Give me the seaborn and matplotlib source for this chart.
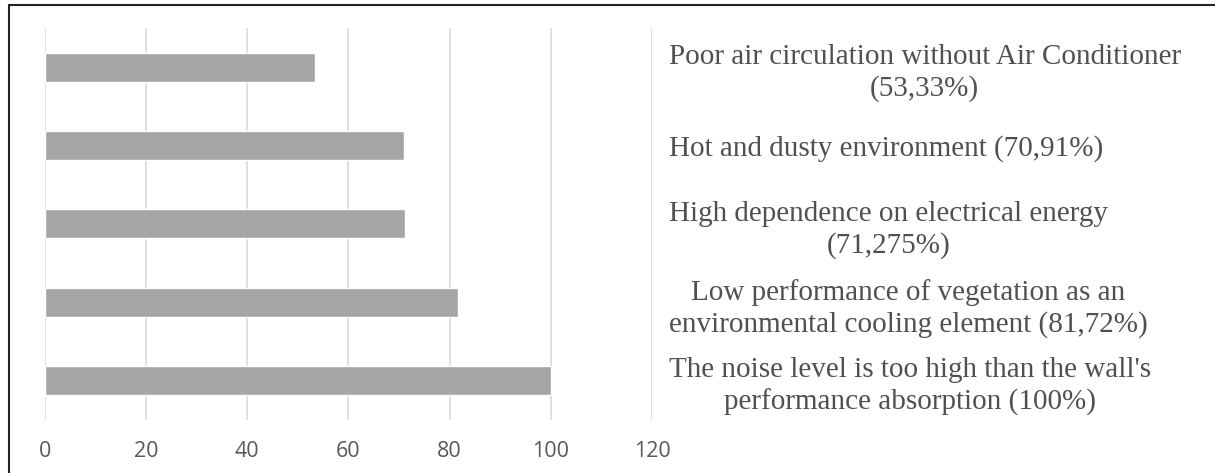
import pandas as pd
import matplotlib.pyplot as plt
import seaborn as sns
from matplotlib.patches import Rectangle

# Data (top to bottom)
labels = [
    "Poor air circulation without Air Conditioner\n(53,33%)",
    "Hot and dusty environment (70,91%)",
    "High dependence on electrical energy\n(71,275%)",
    "Low performance of vegetation as an\nenvironmental cooling element (81,72%)",
    "The noise level is too high than the wall's\nperformance absorption (100%)",
]
values = [53.33, 70.91, 71.275, 81.72, 100]
x_ticks = [0, 20, 40, 60, 80, 100, 120]

df = pd.DataFrame({"label": labels, "value": values})

sns.set_style("white")

fig = plt.figure(figsize=(12.15, 4.73), dpi=100)
ax = fig.add_axes([0.037, 0.112, 0.4996, 0.829])

sns.barplot(data=df, x="value", y="label", orient="h", color="#A5A5A5",
            saturation=1, width=0.37, ax=ax)

ax.set_xlim(0, 120)
ax.set_xticks(x_ticks)
ax.set_xlabel("")
ax.set_ylabel("")
ax.grid(axis="x", color="#D9D9D9", linewidth=1.2)
ax.grid(axis="y", visible=False)
ax.set_axisbelow(True)
for s in ax.spines.values():
    s.set_visible(False)

# x tick labels
ax.tick_params(axis="x", length=0, pad=15, labelsize=15.5, labelcolor="#595959")
for t in ax.get_xticklabels():
    t.set_family(["Open Sans", "DejaVu Sans"])

# category labels on the right side
ax.yaxis.tick_right()
ax.tick_params(axis="y", length=0, pad=12, labelsize=21, labelcolor="#505050")
for t in ax.get_yticklabels():
    t.set_family(["Liberation Serif", "DejaVu Serif"])
    t.set_ha("left")
    t.set_multialignment("center")
    t.set_linespacing(1.25)

# outer frame (left and top edges visible)
fig.patches.append(Rectangle((0.0074, -0.05), 1.1, 1.04, transform=fig.transFigure,
                             fill=False, edgecolor="#222222", linewidth=1.5))

fig.savefig("out.png", dpi=100)
